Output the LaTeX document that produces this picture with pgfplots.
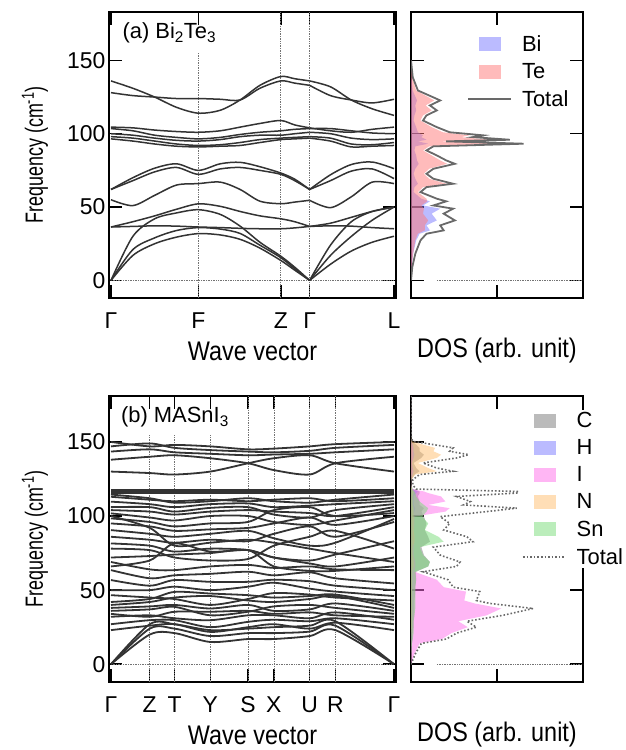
\documentclass[border=0pt]{standalone}
\usepackage{fontspec}
\setmainfont{Liberation Sans}
\newfontfamily\xlabfont[FakeStretch=0.87]{Liberation Sans}
\newfontfamily\ylabfont[FakeStretch=0.72]{Liberation Sans}
\usepackage{pgfplots}
\usepackage{pgfplotstable}
\pgfplotsset{compat=1.18}

\definecolor{bandc}{RGB}{51,51,51}
\definecolor{cBi}{RGB}{120,120,255}
\definecolor{cTe}{RGB}{255,120,120}
\definecolor{cC}{RGB}{120,120,120}
\definecolor{cH}{RGB}{120,120,255}
\definecolor{cI}{RGB}{255,110,235}
\definecolor{cN}{RGB}{255,190,110}
\definecolor{cSn}{RGB}{120,220,120}
\definecolor{totc}{RGB}{105,105,105}

% Bi2Te3 bands, Gamma-F-Z-Gamma
\pgfplotstableread[header=false]{
0   0    0    0    36.4 36.4 55   62   62   96.5 98   100  103.5 104.5 136   128
22  17   21   30   36.8 40   51   68   70   95   97   99   102   104   131   126
44  25   29   42   37.2 44   58   74   76.5 93   95   97   99    102.5 125   125
66  29.5 34   46   37   48.5 65   77   79.5 91.5 93   95.5 97.5  101.5 118   124
88  31.9 36   48.2 36.4 52.2 66   72.3 75   91   92   95   96.5  101   114   124
110 31   35   45   36   50.5 67   76   79.5 91.5 92.5 96   97.5  102   116   123.5
130 28   32   37   35.5 47   62   77   80.5 92   94   98   99.5  104.5 123   123
150 22   24   26   35.2 44   54   75   77.5 94   96   99   101   107   133   131
171 13.6 15.5 16.5 35.2 42   52.3 72.3 73.2 96   97   99   102   109   139   136
185 7    8    9    35.8 40   53.4 68   69   96.5 97.5 100  103   106   137.5 134.5
200 0    0    0    36.8 36.8 54.6 62   62   97   98   101  103.5 104   136   133
}\bandAa
% Gamma-L
\pgfplotstableread[header=false]{
200 0    0    0    36.8 36.8 54.6 62   62   97   98   101  103.5 104   136   133
221 11   17   24   37.2 39   49.6 68   72   95   97   100  103.5 102   132   126
242 20   30   40   37   43   57   74.5 79   91   93   97   102   101   123   123
263 26   41   47   36   47   67   76   80.7 91.5 92.5 96   100.5 103   117   121
285 30.1 50   50   35.2 50   66   69.4 76.2 92   94   96.5 100   104.5 112.5 123.5
}\bandAb

% MASnI3 bands, Gamma-Z-T-Y-S-X-U-R-Gamma
\pgfplotstableread[header=false]{
0   0  0  0  23   27   32   34   36   38   40 42   46.6 50   56.8 63.5 69   66   72 81.5 78 100 86 90.5 95 98.4 101.8 104 106   109.7 113 114.5 115.2 116.4 117.6 130   138   143.5 147   150
39  20 24 27 26   29.7 33   32   37   39   42 44   45   50   53   58   64   70   73 80   77 92  84 88   93 96   99    103 106   108   111 112   115.2 116.4 117.6 129   140   145   149   147
64  21 24 27 27   29.7 31   35.4 38.7 40   45 48.8 44   52.3 56.8 60   63.5 81.5 74 76   72 80  82 86   90 93   97    101 103   106   110 109   115.2 116.4 117.6 128   141   143   146   148
100 15 19 23 21.8 25   29.7 35.4 33   37.6 46 47.7 40   50   55.6 61   66   76   75 78   70 82  84 88   91 95   100   103 105.5 108   111 110   115.2 116.4 117.6 130   139   142   144.5 147
138 17 21 24 25   28.6 33   36   35.4 40   43 46.6 44   52.3 55.6 62.4 67   77   77 77   71 84  83 90   92 96   100   104 106   108.5 110 112   115.2 116.4 117.6 135.6 135.6 141   143.5 145
164 17 21 25 27   30   33   34   39   36   42 45   48   55   57   60   65   72   66 72   80 82  88 85   95 104  96    103 101   106   111 110   115.2 116.4 117.6 139   131   141.5 143   145.5
200 19 22 26 24   29   31   35   40   37   44 46   47   51   56   62   66   68   63 70   86 78  93 80   99 106  94    102 99    107   112 109   115.2 116.4 117.6 141   128   142   144   147
226 23 26 29 28   31   35   33   38   41   46 47   45   49   53   58   64   66   63 74   90 75  86 82   94 100  97    100 104   108   110 111   115.2 116.4 117.6 135.6 135.6 143   146   148.5
285 0  0  0  23   27   30   32   34   36   38 40   43   46   50   54.5 63.5 72   66 83   78 69  96 98   100 102 104   106 108   110   112 114.5 115.2 116.4 117.6 130   140   145   148   150
}\bandB

% DOS of Bi2Te3
\pgfplotstableread{
f     tot   bi    te
0     0     0     0
9.1   0.015 0.008 0.007
18.2  0.05  0.025 0.025
27.3  0.11  0.06  0.05
31.8  0.18  0.10  0.08
34.1  0.38  0.22  0.16
37.5  0.34  0.18  0.16
40.9  0.51  0.30  0.20
45.5  0.38  0.24  0.14
48.9  0.49  0.34  0.15
51.1  0.26  0.14  0.12
53.9  0.41  0.22  0.19
55.7  0.30  0.12  0.18
60.2  0.11  0.03  0.08
63.6  0.18  0.04  0.14
65.9  0.49  0.08  0.41
69.3  0.26  0.05  0.21
72.7  0.18  0.03  0.15
76.1  0.26  0.05  0.21
79.5  0.51  0.09  0.42
81.8  0.41  0.07  0.34
85.2  0.30  0.06  0.24
88.6  0.18  0.04  0.14
91.4  0.26  0.05  0.21
93.2  1.31  0.20  1.05
94.8  0.41  0.08  0.33
95.9  1.15  0.18  0.92
97.7  0.72  0.12  0.58
98.9  0.84  0.14  0.68
101   0.45  0.08  0.37
104.5 0.30  0.06  0.24
109   0.14  0.03  0.11
112.5 0.18  0.04  0.14
115.9 0.30  0.06  0.24
119.3 0.22  0.05  0.17
122.7 0.34  0.07  0.27
129.5 0.08  0.02  0.06
138.6 0.02  0.005 0.015
150   0     0     0
}\dosA

% DOS of MASnI3
\pgfplotstableread{
f     tot   c     h     i     n     sn
0     0     0     0     0     0     0
7     0.05  0.005 0     0.04  0     0.005
14    0.12  0.01  0     0.10  0     0.01
17    0.41  0.02  0.005 0.36  0     0.02
21    0.53  0.02  0.005 0.47  0.005 0.03
25    0.76  0.03  0.01  0.66  0.01  0.03
29    0.65  0.03  0.01  0.55  0.01  0.03
33    1.07  0.04  0.01  0.88  0.01  0.04
37.6  1.42  0.04  0.01  1.05  0.01  0.05
41    0.92  0.04  0.01  0.74  0.01  0.05
43    0.76  0.04  0.01  0.62  0.01  0.05
49    0.80  0.05  0.01  0.64  0.01  0.05
52    0.49  0.05  0.01  0.38  0.01  0.05
57    0.43  0.06  0.01  0.30  0.01  0.06
62.4  0.14  0.06  0.01  0.04  0.01  0.05
66    0.53  0.20  0.02  0.05  0.03  0.20
69    0.57  0.22  0.02  0.05  0.03  0.22
73.6  0.34  0.15  0.02  0.03  0.02  0.14
79    0.26  0.12  0.02  0.03  0.02  0.10
82.7  0.72  0.22  0.03  0.04  0.04  0.38
86    0.65  0.20  0.03  0.04  0.04  0.32
90.6  0.38  0.16  0.02  0.03  0.03  0.16
95    0.45  0.18  0.02  0.04  0.03  0.20
99.6  0.34  0.15  0.02  0.04  0.03  0.13
103   0.88  0.12  0.04  0.40  0.03  0.18
105.3 1.23  0.15  0.05  0.45  0.03  0.20
107.5 0.61  0.10  0.03  0.20  0.02  0.15
109.8 0.69  0.10  0.03  0.40  0.02  0.10
113.2 0.53  0.08  0.03  0.35  0.02  0.06
115.5 1.23  0.10  0.06  0.20  0.03  0.05
116.6 1.25  0.10  0.08  0.15  0.03  0.04
118.2 0.06  0.02  0.01  0.01  0.01  0.01
121   0.02  0.005 0.005 0     0.005 0
124.5 0.02  0.005 0.005 0     0.005 0
128   0.10  0.04  0.02  0.01  0.05  0
130.2 0.49  0.10  0.03  0.02  0.30  0
132.4 0.30  0.06  0.02  0.01  0.20  0
135.8 0.14  0.03  0.01  0.01  0.08  0
139.2 0.53  0.12  0.03  0.02  0.30  0
141.4 0.67  0.15  0.04  0.02  0.35  0
143.7 0.45  0.10  0.03  0.02  0.26  0
146   0.49  0.10  0.03  0.02  0.28  0
148.2 0.26  0.06  0.02  0.01  0.14  0
150.4 0.02  0.005 0.005 0     0.01  0
154   0     0     0     0     0     0
181   0     0     0     0     0     0
}\dosB

\tikzset{sym/.style={densely dotted, black!55, line width=0.7bp}}
\pgfplotsset{
  panel/.style={
    scale only axis, height=286bp,
    axis line style={line width=1.5bp},
    every tick/.style={black, line width=1.5bp},
    major tick length=13bp,
    tick align=inside, tick pos=both,
    xticklabel pos=lower, yticklabel pos=left,
    ymin=-12, ytick={0,50,100,150},
    tick label style={font=\fontsize{23}{26}\selectfont},
    xticklabel style={yshift=-11bp},
    xlabel style={at={(axis description cs:0.5,-0.185)}, anchor=center,
      font=\xlabfont\fontsize{27}{30}\selectfont},
    ylabel style={font=\ylabfont\fontsize{25}{28}\selectfont},
  },
  bd/.style={bandc, line width=1.5bp, smooth},
  sq/.style={legend image code/.code={\fill[##1] (0bp,-7bp) rectangle (22bp,7bp);}},
  ln/.style={legend image code/.code={\draw[##1] (-11bp,0bp) -- (32bp,0bp);}},
  leg/.style={legend cell align=left,
    legend style={draw=none, fill=white, inner sep=0pt, row sep=6.5bp,
      at={#1}, anchor=north west,
      /tikz/every odd column/.append style={column sep=8bp}}},
}

\begin{document}
\begin{tikzpicture}[font=\fontsize{22}{26}\selectfont]
\path[use as bounding box] (0bp,0bp) rectangle (626bp,750bp);

% (a) band structure
\begin{axis}[panel, at={(109bp,452bp)}, anchor=south west, width=287bp,
  ymax=183, xmin=-2, xmax=287,
  xtick={0,88,171,200,285}, xticklabels={Γ,F,Z,Γ,L},
  yticklabels={0,50,100,150},
  xlabel={Wave vector},
  ylabel={Frequency (cm\textsuperscript{-1})},
  ylabel style={at={(axis description cs:-0.258,0.5)}, anchor=center}]
\draw[sym] (axis cs:88,-12) -- (axis cs:88,155);
\draw[sym] (axis cs:171,-12) -- (axis cs:171,183);
\draw[sym] (axis cs:200,-12) -- (axis cs:200,183);
\draw[sym] (axis cs:0,0) -- (axis cs:285,0);
\pgfplotsinvokeforeach{1,...,15}{
  \addplot[bd] table[x index=0, y index=#1] {\bandAa};
  \addplot[bd] table[x index=0, y index=#1] {\bandAb};
}
\node[anchor=north west] at (rel axis cs:0.035,0.975) {(a) Bi\textsubscript{2}Te\textsubscript{3}};
\end{axis}

% (a) DOS
\begin{axis}[panel, at={(411bp,452bp)}, anchor=south west, width=172bp,
  ymax=183, xmin=0, xmax=2, xtick={0,1,2}, xticklabels={}, yticklabels={},
  xlabel={DOS (arb. unit)}, leg={(0.326,0.925)}]
\addplot[sq, fill=cBi, draw=none, fill opacity=0.5] table[x=bi, y=f] {\dosA} -- cycle;
\addplot[sq, fill=cTe, draw=none, fill opacity=0.5] table[x=te, y=f] {\dosA} -- cycle;
\addplot[ln, totc, line width=1.8bp] table[x=tot, y=f] {\dosA};
\legend{Bi, Te, Total}
\draw[sym] (axis cs:0.3,0) -- (axis cs:2,0);
\end{axis}

% (b) band structure
\begin{axis}[panel, at={(109bp,68bp)}, anchor=south west, width=287bp,
  ymax=181, xmin=-2, xmax=287,
  xtick={0,39,64,100,138,164,200,226,285}, xticklabels={Γ,Z,T,Y,S,X,U,R,Γ},
  yticklabels={0,50,100,150},
  xlabel={Wave vector},
  ylabel={Frequency (cm\textsuperscript{-1})},
  ylabel style={at={(axis description cs:-0.258,0.5)}, anchor=center}]
\draw[sym] (axis cs:39,-12) -- (axis cs:39,155);
\draw[sym] (axis cs:64,-12) -- (axis cs:64,155);
\draw[sym] (axis cs:100,-12) -- (axis cs:100,155);
\draw[sym] (axis cs:138,-12) -- (axis cs:138,181);
\draw[sym] (axis cs:164,-12) -- (axis cs:164,181);
\draw[sym] (axis cs:200,-12) -- (axis cs:200,181);
\draw[sym] (axis cs:226,-12) -- (axis cs:226,181);
\draw[sym] (axis cs:0,0) -- (axis cs:285,0);
\pgfplotsinvokeforeach{1,...,39}{
  \addplot[bd, line width=1.8bp] table[x index=0, y index=#1] {\bandB};
}
\node[anchor=north west] at (rel axis cs:0.03,0.975) {(b) MASnI\textsubscript{3}};
\end{axis}

% (b) DOS
\begin{axis}[panel, at={(411bp,68bp)}, anchor=south west, width=172bp,
  ymax=181, xmin=0, xmax=2, xtick={0,1,2}, xticklabels={}, yticklabels={},
  xlabel={DOS (arb. unit)}, leg={(0.645,0.95)}]
\addplot[sq, fill=cC, draw=none, fill opacity=0.5] table[x=c, y=f] {\dosB} -- cycle;
\addplot[sq, fill=cH, draw=none, fill opacity=0.5] table[x=h, y=f] {\dosB} -- cycle;
\addplot[sq, fill=cI, draw=none, fill opacity=0.5] table[x=i, y=f] {\dosB} -- cycle;
\addplot[sq, fill=cN, draw=none, fill opacity=0.5] table[x=n, y=f] {\dosB} -- cycle;
\addplot[sq, fill=cSn, draw=none, fill opacity=0.5] table[x=sn, y=f] {\dosB} -- cycle;
\addplot[ln, totc, dotted, line width=1.6bp] table[x=tot, y=f] {\dosB};
\legend{C, H, I, N, Sn, Total}
\draw[sym] (axis cs:0.3,0) -- (axis cs:2,0);
\end{axis}
\end{tikzpicture}
\end{document}
